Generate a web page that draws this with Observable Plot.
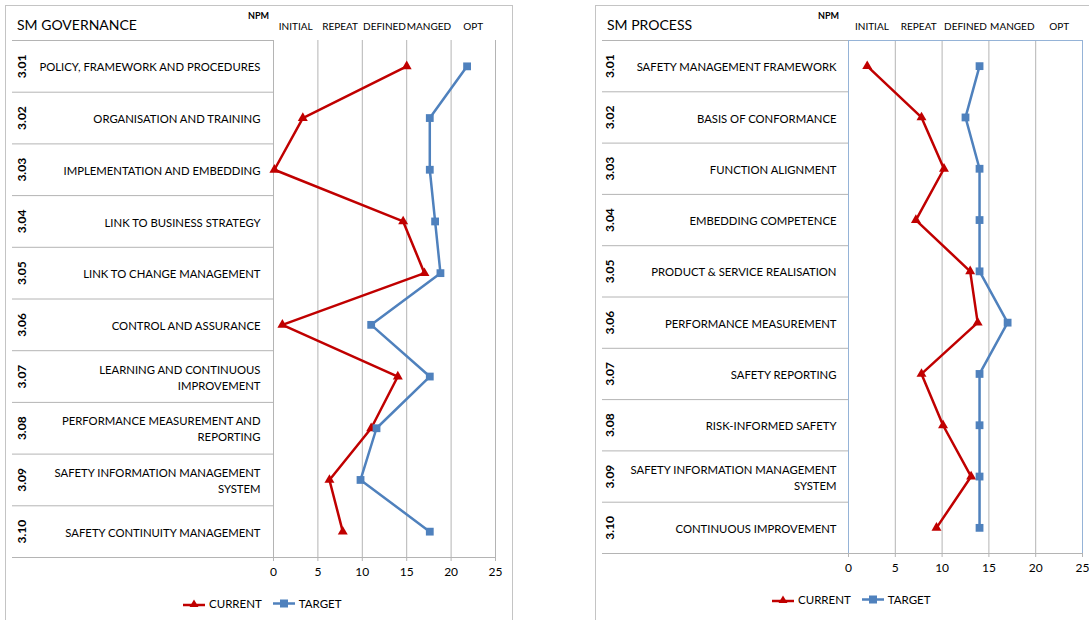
<!DOCTYPE html>
<html>
<head>
<meta charset="utf-8">
<script src="https://cdn.jsdelivr.net/npm/d3@7"></script>
<script src="https://cdn.jsdelivr.net/npm/@observablehq/plot@0.6"></script>
<style>
  html, body { margin: 0; padding: 0; background: #fff; overflow: hidden; }
  body { width: 1089px; height: 620px; position: relative; font-family: Lato, "Liberation Sans", sans-serif; color: #000; }
  .panel { position: absolute; border: 1px solid #c4c4c4; box-sizing: border-box; }
  .abs { position: absolute; white-space: nowrap; }
  .title { font-size: 14px; }
  .npm { font-size: 9px; font-weight: bold; }
  .legend { font-size: 11.5px; display: flex; align-items: center; }
  .legend span { margin-right: 11px; }
  .legend svg { display: block; }
</style>
</head>
<body>
<div class="panel" style="left:5px;top:5px;width:508px;height:640px;"></div>
<div class="panel" style="left:595px;top:5px;width:520px;height:640px;"></div>
<div id="left" class="abs" style="left:0;top:0;"></div>
<div id="right" class="abs" style="left:560px;top:0;"></div>
<div class="abs title" style="left:17px;top:16px;">SM GOVERNANCE</div>
<div class="abs npm" style="left:248px;top:10px;">NPM</div>
<div class="abs title" style="left:607px;top:16px;">SM PROCESS</div>
<div class="abs npm" style="left:818px;top:10px;">NPM</div>
<div id="legL" class="abs legend" style="left:183px;top:597px;"></div>
<div id="legR" class="abs legend" style="left:772px;top:593px;"></div>
<script>
// ---------- data ----------
const codes = ["3.01","3.02","3.03","3.04","3.05","3.06","3.07","3.08","3.09","3.10"];
const levels = ["INITIAL","REPEAT","DEFINED","MANGED","OPT"];
const xTicks = [0, 5, 10, 15, 20, 25];
const seriesNames = ["CURRENT", "TARGET"];

const govCategories = [
  "POLICY, FRAMEWORK AND PROCEDURES",
  "ORGANISATION AND TRAINING",
  "IMPLEMENTATION AND EMBEDDING",
  "LINK TO BUSINESS STRATEGY",
  "LINK TO CHANGE MANAGEMENT",
  "CONTROL AND ASSURANCE",
  "LEARNING AND CONTINUOUS\nIMPROVEMENT",
  "PERFORMANCE MEASUREMENT AND\nREPORTING",
  "SAFETY INFORMATION MANAGEMENT\nSYSTEM",
  "SAFETY CONTINUITY MANAGEMENT"
];
const govCurrent = [15, 3.3, 0.1, 14.6, 17, 1, 14, 11, 6.3, 7.8];
const govTarget  = [21.8, 17.6, 17.6, 18.2, 18.8, 11, 17.6, 11.6, 9.8, 17.6];

const procCategories = [
  "SAFETY MANAGEMENT FRAMEWORK",
  "BASIS OF CONFORMANCE",
  "FUNCTION ALIGNMENT",
  "EMBEDDING COMPETENCE",
  "PRODUCT & SERVICE REALISATION",
  "PERFORMANCE MEASUREMENT",
  "SAFETY REPORTING",
  "RISK-INFORMED SAFETY",
  "SAFETY INFORMATION MANAGEMENT\nSYSTEM",
  "CONTINUOUS IMPROVEMENT"
];
const procCurrent = [2, 7.8, 10.2, 7.2, 13, 13.8, 7.8, 10.1, 13.1, 9.4];
const procTarget  = [14, 12.5, 14, 14, 14, 17, 14, 14, 14, 14];

// ---------- style ----------
const RED = "#c00000";
const BLUE = "#4f81bd";
const GRID = "#b4b4b4";
const FONT = "Lato, 'Liberation Sans', sans-serif";

function panel(o) {
  const n = o.categories.length;
  const rows = o.categories.map((c, i) => ({i, cat: c, code: codes[i], cur: o.current[i], tgt: o.target[i]}));
  const bounds = d3.range(n + 1).map(i => i - 0.5);
  const bands = levels.map((l, i) => ({l, mid: xTicks[i] + (xTicks[i + 1] - xTicks[i]) / 2}));
  const marks = [
    Plot.gridX({ticks: xTicks, stroke: GRID, strokeOpacity: 1}),
  ];
  if (o.frame) marks.push(Plot.frame({stroke: o.frame, strokeOpacity: 1}));
  marks.push(
    Plot.frame({anchor: "bottom", stroke: GRID}),
    Plot.axisY({ticks: bounds, tickSize: o.sepLen, tickFormat: () => "", stroke: GRID, label: null}),
    Plot.axisX({anchor: "bottom", ticks: xTicks, tickSize: 4, tickPadding: 6, stroke: GRID, fill: "#000", fontSize: 12, label: null}),
    Plot.text(bands, {x: "mid", text: "l", frameAnchor: "top", lineAnchor: "middle", dy: -14, fontSize: 10, fill: "#000"}),
    Plot.text(rows, {y: "i", text: "cat", frameAnchor: "left", dx: -o.labelPad, textAnchor: "end", lineHeight: 1.4, fontSize: 11.3, fill: "#000"}),
    Plot.text(rows, {y: "i", text: "code", frameAnchor: "left", textAnchor: "middle", dx: -o.codeOff, rotate: -90, fontSize: 12, fontWeight: "bold", fill: "#000"}),
    Plot.line(rows, {x: "cur", y: "i", stroke: RED, strokeWidth: 2.5}),
    Plot.dot(rows, {x: "cur", y: "i", symbol: "triangle", r: 3.7, fill: RED}),
    Plot.line(rows, {x: "tgt", y: "i", stroke: BLUE, strokeWidth: 2.5}),
    Plot.dot(rows, {x: "tgt", y: "i", symbol: "square", r: 4.4, fill: BLUE})
  );
  return Plot.plot({
    width: o.width, height: o.height,
    marginLeft: o.ml, marginRight: o.mr, marginTop: 40, marginBottom: o.mb,
    x: {domain: [xTicks[0], xTicks[xTicks.length - 1]], axis: null},
    y: {domain: [bounds[0], bounds[n]], reverse: true, axis: null},
    style: {fontFamily: FONT, fontSize: "12px", color: "#000", background: "transparent", overflow: "visible"},
    marks
  });
}

document.getElementById("left").append(panel({
  categories: govCategories, current: govCurrent, target: govTarget,
  width: 520, height: 592, ml: 273, mr: 25, mb: 35,
  sepLen: 261, labelPad: 13, codeOff: 251
}));
document.getElementById("right").append(panel({
  categories: procCategories, current: procCurrent, target: procTarget,
  width: 529, height: 590, ml: 288, mr: 7, mb: 37,
  sepLen: 246, labelPad: 12, codeOff: 238, frame: "#95b3d7"
}));

function legend(el) {
  const colors = [RED, BLUE];
  const shapes = [
    `<path d="M11,0.5 L15.5,8 L6.5,8 Z" fill="${RED}"/>`,
    `<rect x="7" y="0.5" width="8" height="8" fill="${BLUE}"/>`
  ];
  el.innerHTML = seriesNames.map((s, i) =>
    `<svg width="24" height="10" style="margin-right:2px"><line x1="0" x2="22" y1="${i ? 4.5 : 6}" y2="${i ? 4.5 : 6}" stroke="${colors[i]}" stroke-width="2.5"/>${shapes[i]}</svg><span>${s}</span>`
  ).join("");
}
legend(document.getElementById("legL"));
legend(document.getElementById("legR"));
</script>
</body>
</html>
